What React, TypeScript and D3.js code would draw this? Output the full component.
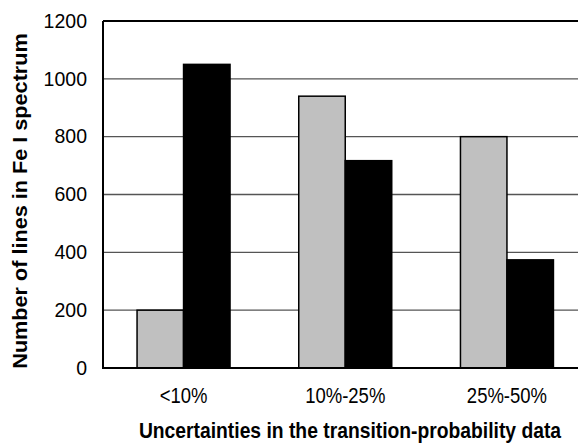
import React from "react";
import * as d3 from "d3";

const categories = ["<10%", "10%-25%", "25%-50%"];
const seriesNames = ["A", "B"];
const grayValues = [200, 940, 800];
const blackValues = [1050, 717, 374];
const yTicks = [0, 200, 400, 600, 800, 1000, 1200];
const seriesColors = ["#c0c0c0", "#000000"];

const W = 578;
const H = 443;
const left = 103;
const top = 21;
const bottom = 368;
const font = "Arial, 'Liberation Sans', Helvetica, sans-serif";

export default function App() {
  const x = d3.scaleBand<string>().domain(categories).range([102.7, 587.8]).paddingInner(0).paddingOuter(0);
  const xs = d3.scaleBand<string>().domain(seriesNames).range([0, x.bandwidth()]).paddingInner(0).paddingOuter(0.739);
  const y = d3.scaleLinear().domain([0, 1200]).range([bottom, top]);
  const series = [grayValues, blackValues];

  return (
    <svg width={W} height={H} style={{ position: "absolute", left: 0, top: 0, background: "#fff" }}>
      <rect x={0} y={0} width={W} height={H} fill="#fff" />
      {yTicks.filter((t) => t > 0 && t < 1200).map((t) => (
        <line key={t} x1={left} x2={W} y1={y(t)} y2={y(t)} stroke="#555" strokeWidth={1.4} />
      ))}
      <line x1={left} x2={W} y1={y(1200)} y2={y(1200)} stroke="#000" strokeWidth={2} />
      {categories.map((c, i) =>
        series.map((vals, s) => (
          <rect
            key={c + s}
            x={(x(c) as number) + (xs(seriesNames[s]) as number)}
            y={y(vals[i])}
            width={xs.bandwidth()}
            height={bottom - y(vals[i])}
            fill={seriesColors[s]}
            stroke="#000"
            strokeWidth={1.5}
          />
        ))
      )}
      <line x1={left} x2={left} y1={top} y2={bottom} stroke="#000" strokeWidth={2} />
      <line x1={left - 1} x2={W} y1={bottom} y2={bottom} stroke="#000" strokeWidth={2} />
      {yTicks.map((t) => (
        <text
          key={t}
          transform={`translate(87,${y(t) + 6.8}) scale(1,1.0)`}
          textAnchor="end"
          fontFamily={font}
          fontSize={19.5}
          fill="#000"
        >
          {t}
        </text>
      ))}
      {categories.map((c) => (
        <text
          key={c}
          transform={`translate(${(x(c) as number) + x.bandwidth() / 2},403) scale(1,1.15)`}
          textAnchor="middle"
          fontFamily={font}
          fontSize={18.5}
          fill="#000"
        >
          {c}
        </text>
      ))}
      <text
        transform="translate(350,438) scale(1,1.13)"
        textAnchor="middle"
        fontFamily={font}
        fontSize={19.3}
        fontWeight="bold"
        fill="#000"
      >
        Uncertainties in the transition-probability data
      </text>
      <text
        transform="translate(27,201) rotate(-90) scale(1.11,1)"
        textAnchor="middle"
        fontFamily={font}
        fontSize={19.5}
        fontWeight="bold"
        fill="#000"
      >
        Number of lines in Fe I spectrum
      </text>
    </svg>
  );
}
